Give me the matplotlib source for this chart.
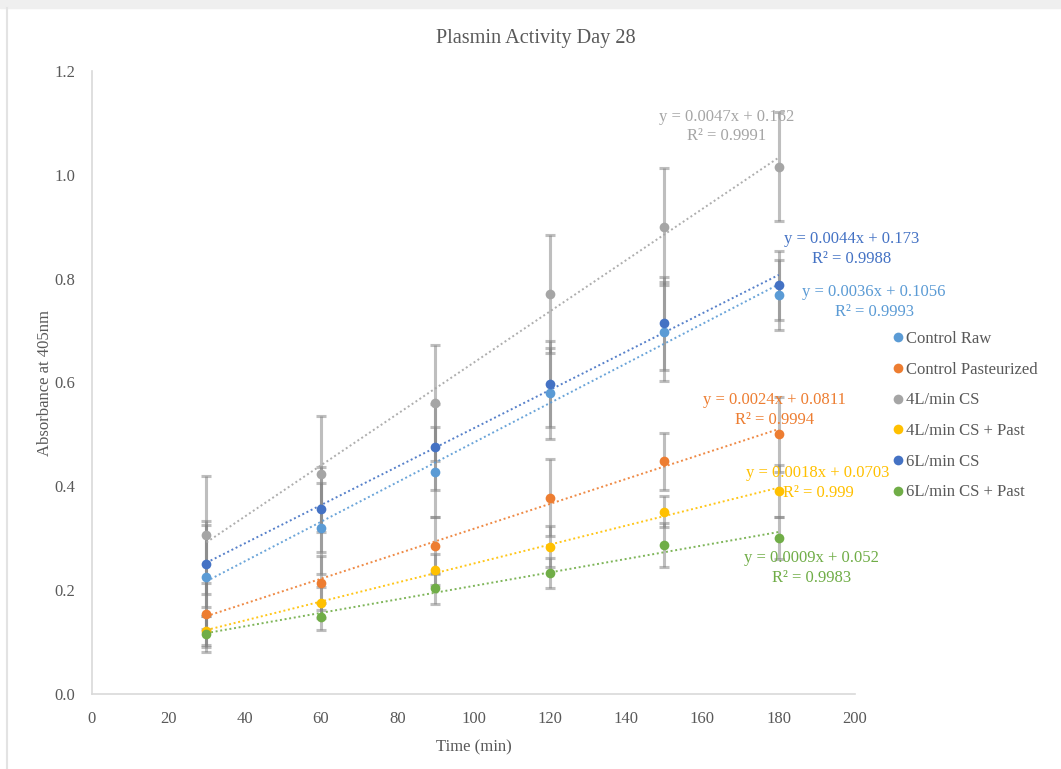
import numpy as np
import matplotlib.pyplot as plt
from matplotlib.lines import Line2D
from matplotlib.patches import Rectangle

plt.rcParams.update(
    {
        "font.family": ["Liberation Serif", "DejaVu Serif"],
        "font.size": 12,
        "axes.linewidth": 1.2,
    }
)

# sampling times (min)
times = [30, 60, 90, 120, 150, 180]

# absorbance at 405 nm, mean and error per treatment
control_raw = [0.226, 0.319, 0.428, 0.579, 0.698, 0.769]
control_raw_err = [0.100, 0.087, 0.087, 0.087, 0.095, 0.067]
control_past = [0.154, 0.2145, 0.286, 0.378, 0.448, 0.500]
control_past_err = [0.060, 0.052, 0.054, 0.074, 0.055, 0.072]
cs4 = [0.306, 0.424, 0.560, 0.770, 0.900, 1.016]
cs4_err = [0.114, 0.112, 0.112, 0.114, 0.113, 0.105]
cs4_past = [0.121, 0.176, 0.239, 0.284, 0.351, 0.391]
cs4_past_err = [0.030, 0.030, 0.030, 0.040, 0.030, 0.050]
cs6 = [0.250, 0.356, 0.4765, 0.597, 0.714, 0.787]
cs6_err = [0.083, 0.082, 0.083, 0.082, 0.090, 0.066]
cs6_past = [0.116, 0.149, 0.2035, 0.2325, 0.287, 0.300]
cs6_past_err = [0.035, 0.026, 0.030, 0.029, 0.042, 0.040]

names = [
    "Control Raw",
    "Control Pasteurized",
    "4L/min CS",
    "4L/min CS + Past",
    "6L/min CS",
    "6L/min CS + Past",
]
means = [control_raw, control_past, cs4, cs4_past, cs6, cs6_past]
errors = [control_raw_err, control_past_err, cs4_err, cs4_past_err, cs6_err, cs6_past_err]
colors = ["#5B9BD5", "#ED7D31", "#A5A5A5", "#FFC000", "#4472C4", "#70AD47"]

# trendline labels
equations = [
    "y = 0.0036x + 0.1056\nR² = 0.9993",
    "y = 0.0024x + 0.0811\nR² = 0.9994",
    "y = 0.0047x + 0.162\nR² = 0.9991",
    "y = 0.0018x + 0.0703\nR² = 0.999",
    "y = 0.0044x + 0.173\nR² = 0.9988",
    "y = 0.0009x + 0.052\nR² = 0.9983",
]
eq_pos = [(205.0, 0.755), (179.0, 0.547), (166.4, 1.093), (190.3, 0.406), (199.0, 0.857), (188.5, 0.243)]

W, H = 1061, 769
fig = plt.figure(figsize=(W / 100, H / 100), dpi=100)

# chart frame
fig.patches.append(
    Rectangle((0, 1 - 8 / H), 1, 8 / H, transform=fig.transFigure, color="#EFEFEF", zorder=0)
)
fig.lines.append(
    Line2D([7 / W, 7 / W], [0, 1 - 8 / H], transform=fig.transFigure, color="#E3E3E3", lw=1.5)
)

ax = fig.add_axes([92 / W, 1 - 694 / H, (855 - 92) / W, (694 - 71) / H])

x = np.array(times)
xs = np.array([30, 180])
for m, e, c in zip(means, errors, colors):
    ax.errorbar(
        x, m, yerr=e, fmt="none", ecolor="#7F7F7F", alpha=0.5,
        elinewidth=2.2, capsize=3.6, capthick=2.2, zorder=2,
    )
for m, c in zip(means, colors):
    k, b = np.polyfit(x, m, 1)
    ax.plot(xs, k * xs + b, color=c, lw=1.4, ls=(0, (1, 1.4)), alpha=0.9, zorder=3)
for m, c in zip(means, colors):
    ax.plot(x, m, "o", color=c, ms=7, mec="none", zorder=4)

for txt, (ex, ey), c in zip(equations, eq_pos, colors):
    ax.text(ex, ey, txt, color=c, ha="center", va="center", fontsize=12,
            linespacing=1.3, multialignment="center", clip_on=False, zorder=5)

ax.set_xlim(0, 200)
ax.set_ylim(0, 1.2)
ax.set_xticks(np.arange(0, 201, 20))
ax.set_yticks(np.arange(0, 1.21, 0.2))
ax.set_yticklabels([f"{v:.1f}" for v in np.arange(0, 1.21, 0.2)])
ax.tick_params(length=0, labelsize=12, colors="#595959")
ax.tick_params(axis="x", pad=12)
ax.tick_params(axis="y", pad=12)
for s in ["top", "right"]:
    ax.spines[s].set_visible(False)
for s in ["left", "bottom"]:
    ax.spines[s].set_color("#D9D9D9")

ax.set_xlabel("Time (min)", fontsize=12, color="#595959", labelpad=9)
ax.set_ylabel("Absorbance at 405nm", fontsize=12, color="#595959", labelpad=1)

fig.text(536 / W, 1 - 38 / H, "Plasmin Activity Day 28", ha="center", va="center",
         fontsize=14.6, color="#595959")

handles = [Line2D([], [], ls="none", marker="o", color=c, ms=7, mec="none") for c in colors]
fig.legend(
    handles, names, loc="upper left", bbox_to_anchor=(878 / W, 1 - 316 / H),
    frameon=False, fontsize=12, handlelength=0.6, handletextpad=0.15,
    labelspacing=0.88, labelcolor="#595959",
)

fig.savefig("out.png", dpi=100)
